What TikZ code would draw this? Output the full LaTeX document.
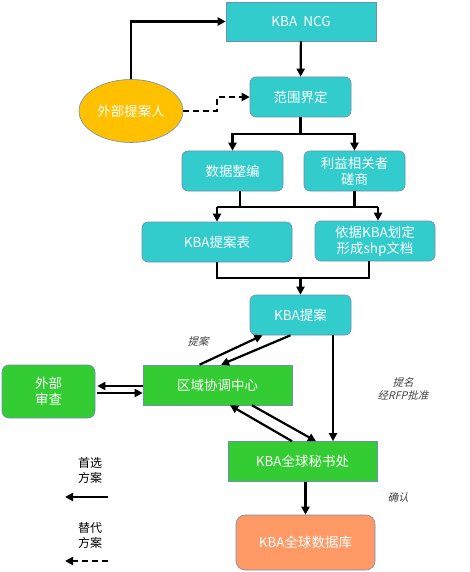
\documentclass[tikz,border=0pt]{standalone}
\usepackage{fontspec}
\setmainfont{Noto Sans CJK SC}
\newfontfamily\slantfont[FakeSlant=0.25]{Noto Sans CJK SC}
\usetikzlibrary{shapes.geometric,arrows.meta}
\definecolor{kbacyan}{HTML}{33CCCC}
\definecolor{kbagreen}{HTML}{33CC33}
\definecolor{kbaorange}{HTML}{FF9966}
\definecolor{kbayellow}{HTML}{FFC000}
\definecolor{edgeline}{HTML}{6F8FAF}

\begin{document}
\begin{tikzpicture}[x=1pt, y=-1pt, font=\fontsize{13.5}{16}\selectfont,
  base/.style={draw=edgeline, line width=0.6pt, text=white, align=center, inner sep=0pt},
  cbox/.style={base, fill=kbacyan, rounded corners=6pt, minimum width=101pt, minimum height=40pt},
  sqbox/.style={base, fill=kbacyan, minimum width=150pt, minimum height=39pt},
  gbox/.style={base, fill=kbagreen, minimum width=149pt, minimum height=40pt},
  arr/.style={line width=2.2pt, -{Triangle[length=8pt,width=8pt]}},
  lin/.style={line width=2.2pt},
  lbl/.style={font=\fontsize{10.5}{13}\selectfont\slantfont, text=black!75, align=center},
  legtext/.style={font=\fontsize{12}{15}\selectfont, align=center}]
  \useasboundingbox (0,0) rectangle (470,572);
  % boxes
  \node[sqbox] (ncg) at (301,21.5) {KBA\ \ NCG};
  \node[cbox] (scope) at (300.5,97) {范围界定};
  \node[cbox] (data) at (232.5,171) {数据整编};
  \node[cbox] (stake) at (354.5,171) {利益相关者\\磋商};
  \node[cbox, minimum width=150pt] (form) at (217,242) {KBA提案表};
  \node[cbox, minimum width=120pt] (shp) at (375,241) {依据KBA划定\\形成shp文档};
  \node[cbox] (prop) at (300.5,315) {KBA提案};
  \node[gbox] (rcc) at (217.5,385) {区域协调中心};
  \node[gbox, rounded corners=7pt, minimum width=93pt, minimum height=53pt] (ext) at (48.5,391.5) {外部\\审查};
  \node[gbox] (sec) at (302.5,461.5) {KBA全球秘书处};
  \node[base, fill=kbaorange, rounded corners=9pt, minimum width=139pt, minimum height=55pt] (db) at (305.5,542.5) {KBA全球数据库};
  \node[base, ellipse, fill=kbayellow, minimum width=104pt, minimum height=63pt] (pers) at (131,111) {外部提案人};
  % labels
  \node[lbl] (lprop) at (198,341) {提案};
  \node[lbl] (lnom) at (403,389) {提名\\经RFP批准};
  \node[lbl] (lconf) at (398,497) {确认};
  % legend
  \node[legtext] (lpref) at (90,470) {首选\\方案};
  \node[legtext] (lalt) at (90,535) {替代\\方案};
  \coordinate (pa) at (108,497);
  \coordinate (pb) at (65,497);
  \coordinate (aa) at (108,561);
  \coordinate (ab) at (65,561);
  \draw[arr] (pa) -- (pb);
  \draw[arr, dashed, dash pattern=on 6pt off 4pt] (aa) -- (ab);
  % connectors
  \draw[arr] (pers.north) |- (ncg.west);
  \draw[arr, dashed, dash pattern=on 6pt off 4pt] (pers.east) -- ++(34,0) coordinate (dk) |- (scope.west);
  \draw[arr] (ncg) -- (scope);
  \coordinate (m1) at (300.5,134);
  \draw[lin] (scope.south) -- (m1);
  \draw[arr] (m1) -| (data.north);
  \draw[arr] (m1) -| (stake.north);
  \coordinate (m2) at (300,207);
  \draw[lin] ([xshift=7.5pt]data.south) -- ([xshift=7.5pt]data.south |- m2);
  \draw[lin] (stake.south) -- (stake.south |- m2);
  \draw[lin] (form.north |- m2) -- ([xshift=3pt]shp.north |- m2);
  \draw[arr] (form.north |- m2) -- (form.north);
  \draw[arr] ([xshift=3pt]shp.north |- m2) -- ([xshift=3pt]shp.north);
  \coordinate (m3) at (300.5,278);
  \draw[lin] (form.south) |- (m3) -| ([xshift=-6pt]shp.south);
  \draw[arr] (m3) -- (prop.north);
  \draw[arr] ([xshift=-18pt]rcc.north) -- ([xshift=-38pt]prop.south);
  \draw[arr] ([xshift=-10pt]prop.south) -- ([xshift=3.5pt]rcc.north);
  \draw[arr, shorten >=2pt] ([yshift=-1pt]rcc.west) -- ([yshift=-1pt]rcc.west -| ext.east);
  \draw[arr, shorten <=2pt] ([yshift=-8pt]rcc.west -| ext.east) -- ([yshift=-8pt]rcc.west);
  \draw[arr] ([xshift=-10.5pt]sec.north) -- ([xshift=12.5pt]rcc.south);
  \draw[arr] ([xshift=34.5pt]rcc.south) -- ([xshift=13.5pt]sec.north);
  \draw[arr] ([xshift=32.5pt]prop.south) -- ([xshift=32.5pt]prop.south |- sec.north);
  \draw[arr] (db.north |- sec.south) -- (db.north);
\end{tikzpicture}
\end{document}
